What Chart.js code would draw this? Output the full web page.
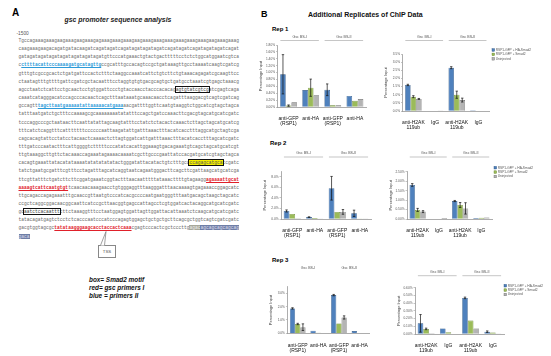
<!DOCTYPE html>
<html><head><meta charset="utf-8">
<script src="https://cdn.jsdelivr.net/npm/chart.js@4.4.1/dist/chart.umd.min.js"></script>
<style>
html,body{margin:0;padding:0;}
body{width:551px;height:356px;position:relative;background:#fff;overflow:hidden;font-family:"Liberation Sans",Arial,sans-serif;}
.abs{position:absolute;white-space:pre;line-height:1;}
.row{position:absolute;left:18.5px;white-space:pre;font-family:"Liberation Mono","DejaVu Sans Mono",monospace;font-size:4.6px;line-height:8px;color:#6a6a6a;}
.bl{color:#2c9ad8;text-decoration:underline;font-weight:bold;}
.bx{outline:0.8px solid #111;outline-offset:0.8px;text-decoration:underline;color:#444;}
.yl{background:#f5f000;outline:0.8px solid #111;outline-offset:0.6px;color:#555;}
.rd{color:#e0202a;text-decoration:underline;font-weight:bold;}
.gy{background:#a8a89a;color:#eee;}
.sl{background:#6f7fa6;color:#dde;}
</style></head>
<body>
<div class="abs" style="left:12px;top:8px;font-size:10px;font-weight:bold;">A</div>
<div class="abs" style="left:40px;width:156px;top:17px;font-size:6.9px;font-weight:bold;font-style:italic;text-align:center;color:#222;">gsc promoter sequence analysis</div>
<div class="abs" style="left:16.5px;top:31.5px;font-size:4.8px;color:#555;">-1500</div>
<div id="seq"></div>
<div class="abs" style="left:98px;top:245px;width:16px;height:11px;border:0.8px solid #888;background:#fff;font-size:4.3px;color:#555;text-align:center;line-height:11px;">TSS</div>
<svg style="position:absolute;left:0;top:0" width="551" height="356"><polyline points="100.5,245.4 106,231.5 104.5,245.4" fill="#fff" stroke="#777" stroke-width="0.7"/></svg>
<div class="abs" style="left:89px;top:276px;font-size:6.4px;font-weight:bold;font-style:italic;line-height:8px;color:#111;">box= Smad2 motif
red= gsc primers I
blue = primers II</div>

<div class="abs" style="left:261px;top:9.5px;font-size:9px;font-weight:bold;">B</div>
<div class="abs" style="left:308px;top:10.5px;font-size:7px;font-weight:bold;color:#111;">Additional Replicates of ChIP Data</div>
<div class="abs" style="left:272px;top:26px;font-size:6px;font-weight:bold;">Rep 1</div>
<div class="abs" style="left:270px;top:140px;font-size:6px;font-weight:bold;">Rep 2</div>
<div class="abs" style="left:272px;top:256.5px;font-size:6px;font-weight:bold;">Rep 3</div>

<script>
// ---------- data ----------
const gfpLabels = [["anti-GFP","(RSP1)"], "anti-HA", ["anti-GFP","(RSP1)"], "anti-HA"];
const h2aLabels = [["anti-H2AK","119ub"], "IgG", ["anti-H2AK","119ub"], "IgG"];
const siteLabels = ["Gsc BS-I", "Gsc BS-II"];
const seriesNames = ["RSP1-GFP + HA-Smad2", "RSP1-GFP + Smad2", "Uninjected"];

// Rep 1
const rep1GfpBlue  = [0.95, 0.49, 0.50, 0.32];
const rep1GfpGreen = [0.04, 0.56, 0.05, 0.18];
const rep1GfpGray  = [0.135, 0.34, 0.05, 0.23];
const rep1GfpErrBlue  = [0.57, 0, 0.17, 0];
const rep1GfpErrGreen = [0.02, 0.25, 0, 0];
const rep1GfpErrGray  = [0, 0, 0, 0];
const rep1GfpTicks = {max: 1.8, step: 0.2, dec: 2};

const rep1H2aBlue  = [1.60, 0.01, 2.66, 0.04];
const rep1H2aGreen = [0.88, 0.01, 1.00, 0.01];
const rep1H2aGray  = [0.74, 0.03, 0.67, 0.01];
const rep1H2aErrBlue  = [0.04, 0, 0.06, 0];
const rep1H2aErrGreen = [0.06, 0, 0.22, 0];
const rep1H2aErrGray  = [0.03, 0, 0.12, 0];
const rep1H2aTicks = {max: 3.5, step: 0.5, dec: 1};

// Rep 2
const rep2GfpBlue  = [1.53, 0.36, 5.85, 1.08];
const rep2GfpGreen = [0.95, 0.18, 1.35, 0.09];
const rep2GfpGray  = [0.14, 0.09, 1.35, 0.09];
const rep2GfpErrBlue  = [0.20, 0.05, 2.25, 0.60];
const rep2GfpErrGreen = [0, 0, 0, 0];
const rep2GfpErrGray  = [0, 0, 0.45, 0];
const rep2GfpTicks = {max: 9, step: 1, dec: 1};

const rep2H2aBlue  = [1.80, 0.00, 0.95, 0.05];
const rep2H2aGreen = [0.48, 0.00, 0.74, 0.06];
const rep2H2aGray  = [0.39, 0.05, 0.56, 0.08];
const rep2H2aErrBlue  = [0.07, 0, 0.03, 0];
const rep2H2aErrGreen = [0.08, 0, 0.13, 0];
const rep2H2aErrGray  = [0.05, 0, 0.30, 0];
const rep2H2aTicks = {max: 2.5, step: 0.5, dec: 2};

// Rep 3
const rep3GfpBlue  = [1.87, 0.19, 2.87, 0.17];
const rep3GfpGreen = [0.70, 0.04, 0.74, 0.03];
const rep3GfpGray  = [0.46, 0.03, 1.19, 0.03];
const rep3GfpErrBlue  = [0.05, 0, 0.05, 0];
const rep3GfpErrGreen = [0.05, 0, 0, 0];
const rep3GfpErrGray  = [0.25, 0, 0.12, 0];
const rep3GfpTicks = {max: 3.5, step: 0.5, dec: 1};

const rep3H2aBlue  = [0.138, 0.072, 0.468, 0.030];
const rep3H2aGreen = [0.066, 0.024, 0.174, 0.018];
const rep3H2aGray  = [0.010, 0.000, 0.072, 0.006];
const rep3H2aErrBlue  = [0.114, 0, 0.01, 0.01];
const rep3H2aErrGreen = [0.01, 0, 0, 0];
const rep3H2aErrGray  = [0, 0, 0, 0];
const rep3H2aTicks = {max: 0.6, step: 0.1, dec: 2};

// ---------- sequence text (panel A) ----------
const seqRows = [
"Tgccagaaagaaagaagaaagaagaaagagaaagaaagaaagaagaaagaaagaaagaaagaaagaaagaagaaagaaagaagg",
"caagaaagaagacagatgatacaagatcagatagatcagatagatagatagatcagatagatcagatagatagatcagatagat",
"gatagatagatagatagatagatagatagatgttcccatgaaactgtactgactttttcctctctggcatggaatcgtcagta",
"ccttttacattcccaaaagatgcatagttgccgcatttgccacagtccgctgataaagttgcctaaaatcaagtcgatcgat",
"gtttgtcgccgcactctgatgattccactctttctaaggccaaatcattctgtcttctgtaaacagagatcgcaagttccga",
"ctaatagtttgttttgattcgatcgctacaatttcctaggtgtgtgacgcagtgctgatgcctaaatcgtgagctaaacgtt",
"agcctaatctcattcctgcaactcctgtggattccctgtaccaacctacccacacagagtgtatcgtcgatcgagtcagat",
"caaatcatagggacatccagcccacaactcagctttaataaatgcaaacaacctcagatttaaggacgtcagtcgatcagat",
"gccagtttagcttaatgaaaaatattaaaaacatgaaaaacgattttggttcaatgtaaggtctggcatcgtagctagcatcg",
"tatttaatgatctgctttccaaaagcgcaaaaaaaatatatttccagctgatccaaacttcgacgtagcatgcatcgatcgta",
"tcccaggcccgctaataacttcaattatattagcaagtatttcctatctctacactcaaactcttagctagcatgcatcgat",
"tttcatctcaggtttcatttttttccccccaattaagatattgatttaaactttacatcacctttaggcatgctagtcgatc",
"cagcacagtattcctatcctacaactcaaaactcttagtggatcattgatttaaactttacatcacctttagcatcgatcga",
"tttgatcccaatactttcattggggtctttttcccatatcacattggaaagtgacagaaatgtcagctagcatgcatcgtag",
"ttgtaaaggcttgttctacaaaccagaaatagaaaacaaaatcgcttgcccgaattatccacgatgcatcgtagctagcat",
"cacagtgaaattatacatataaaatatatatatatactgggatattacatactgtctttgccccagagcatgcatcgatcga",
"tatctgaatgcgatttcgtttcctagatttagcatcaggtaatcagaatgggacttcagcttcgattaagcatgcatcgatc",
"ttcgttatttctgatcttcttcggatgaaatcggtactttaacaatttttataaacttttgtagaaggagaaaattgcatcg",
"aaaagtcattcaatgtgttcaacaacaaagaacctgtgggaggtttaagggatttaacaaaagtgagaaaccggagcatcga",
"ttgcagaccagagaaatttgcaaccgttaatgtcccatcacgccccaatgaatgggtttaatgacagctaagctagcatcga",
"ccgctcaggcggacaacggcaattcatccgcttaacggtgagccattagcctcgtggatcactacaggcatgcatcgatcga",
"gcaatctcacaattttttctaaaggtttcctaatggagtggattagttggattacattaaatctcaagcatgcatcgatcga",
"tatacagatgagtctcctctcacccaatcccatcccagagtggagctgctgctgcttcagcgctggtcagtcgatcgatcg",
"gacgtggtagcgctatataagggaagcacctaccactcaaacgagtcccactcgctcccttgagacagcagcagcagcagca",
"gaca"
];
const seqMarks = [
 [3,1,30,'bl'],[6,57,69,'bx'],[8,7,38,'bl'],[15,62,74,'yl'],
 [17,68,80,'rd'],[18,0,18,'rd'],[21,2,15,'bx'],
 [23,13,41,'rd'],[23,62,66,'gy'],[23,66,80,'sl'],[24,0,4,'sl']
];
(function(){
  const host = document.getElementById('seq');
  seqRows.forEach((raw,i)=>{
    const s = i < seqRows.length-1 ? (raw + "gcatcgatcgtagcatgcatcgat").slice(0,80) : raw;
    const marks = seqMarks.filter(m=>m[0]===i).sort((a,b)=>a[1]-b[1]);
    let html='', pos=0;
    marks.forEach(m=>{ html += s.slice(pos,m[1]) + '<span class="'+m[3]+'">' + s.slice(m[1],m[2]) + '</span>'; pos=m[2]; });
    html += s.slice(pos);
    const d=document.createElement('div'); d.className='row';
    d.style.top=(37 + 8.15*i)+'px'; d.innerHTML=html; host.appendChild(d);
  });
})();

// ---------- charts ----------
const fills = ['#4f81bd', '#9bbb59', '#b4b4b4'];
const edges = ['#27507f', '#5f7f2a', '#6a6a6a'];
const FONT = '"Liberation Sans", Arial, sans-serif';

function buildChart(spec){
  const padR = spec.legend ? 50 : 4;
  const cTop = Math.floor(spec.hdrY - 6);
  const cLeft = Math.floor(spec.L - 25);
  const cW = Math.ceil(spec.R + padR) - cLeft;
  const cH = Math.ceil(spec.B + 19) - cTop;
  const cv = document.createElement('canvas');
  cv.width = cW; cv.height = cH;
  cv.style.cssText = `position:absolute;left:${cLeft}px;top:${cTop}px;width:${cW}px;height:${cH}px`;
  document.body.appendChild(cv);
  const yW = spec.L - cLeft, xH = cTop + cH - spec.B;
  const padTop = spec.T - cTop, padRight = cLeft + cW - spec.R;

  const extras = {
    id: 'extras',
    afterDatasetsDraw(chart){
      const ctx = chart.ctx, y = chart.scales.y;
      ctx.save(); ctx.strokeStyle = '#111'; ctx.lineWidth = 0.7;
      spec.errors.forEach((errs,i)=>{
        const meta = chart.getDatasetMeta(i);
        meta.data.forEach((bar,j)=>{
          const e = errs[j]; if(!e) return;
          const v = spec.values[i][j];
          const yt = y.getPixelForValue(v+e), yb = y.getPixelForValue(Math.max(0,v-e));
          ctx.beginPath();
          ctx.moveTo(bar.x,yt); ctx.lineTo(bar.x,yb);
          ctx.moveTo(bar.x-1.2,yt); ctx.lineTo(bar.x+1.2,yt);
          ctx.moveTo(bar.x-1.2,yb); ctx.lineTo(bar.x+1.2,yb);
          ctx.stroke();
        });
      });
      ctx.restore();
    },
    afterDraw(chart){
      const ctx = chart.ctx, x = chart.scales.x;
      const cw = x.getPixelForValue(1) - x.getPixelForValue(0);
      ctx.save();
      ctx.font = '3.6px ' + FONT; ctx.fillStyle = '#555';
      ctx.textAlign = 'center'; ctx.textBaseline = 'middle';
      [[0,1],[2,3]].forEach((p,k)=>{
        const x0 = x.getPixelForValue(p[0]) - 0.37*cw, x1 = x.getPixelForValue(p[1]) + 0.37*cw;
        ctx.fillText(siteLabels[k], (x0+x1)/2, spec.hdrY - cTop);
        if(spec.lineY != null){
          ctx.strokeStyle = '#a0a0a0'; ctx.lineWidth = 0.6;
          ctx.beginPath(); ctx.moveTo(x0, spec.lineY - cTop); ctx.lineTo(x1, spec.lineY - cTop); ctx.stroke();
        }
      });
      if(spec.legend){
        ctx.font = '3.2px ' + FONT; ctx.textAlign = 'left';
        seriesNames.forEach((n,i)=>{
          const lx = spec.legend.x - cLeft, ly = spec.legend.y - cTop + i*4.4;
          ctx.fillStyle = fills[i]; ctx.fillRect(lx, ly-1.3, 2.6, 2.6);
          ctx.strokeStyle = edges[i]; ctx.lineWidth = 0.4; ctx.strokeRect(lx, ly-1.3, 2.6, 2.6);
          ctx.fillStyle = '#555'; ctx.fillText(n, lx+3.8, ly);
        });
      }
      ctx.restore();
    }
  };

  new Chart(cv, {
    type: 'bar',
    data: {
      labels: spec.labels,
      datasets: seriesNames.map((n,i)=>({
        label: n, data: spec.values[i],
        backgroundColor: fills[i], borderColor: edges[i], borderWidth: 0.6,
        categoryPercentage: 0.76, barPercentage: 1.0
      }))
    },
    options: {
      responsive: false, animation: false, devicePixelRatio: 1,
      layout: {padding: {top: padTop, right: padRight, left: 0, bottom: 0}},
      plugins: {legend: {display: false}, tooltip: {enabled: false}},
      scales: {
        x: {
          grid: {display: false},
          border: {display: true, color: '#8a8a8a', width: 0.7},
          ticks: {font: {size: 5, family: FONT, lineHeight: 1.05}, color: '#111', padding: 1.2, maxRotation: 0, autoSkip: false},
          afterFit: s => { s.height = xH; }
        },
        y: {
          min: 0, max: spec.ticks.max,
          ticks: {stepSize: spec.ticks.step, font: {size: 3.2, family: FONT}, color: '#555', padding: 1,
                  callback: v => v.toFixed(spec.ticks.dec) + '%'},
          grid: {display: true, drawOnChartArea: false, tickLength: 1.5, color: '#8a8a8a', lineWidth: 0.5},
          border: {display: true, color: '#8a8a8a', width: 0.7},
          title: {display: true, text: 'Percentage Input', font: {size: 4, family: FONT}, color: '#444', padding: {top: 6, bottom: 0}},
          afterFit: s => { s.width = yW; }
        }
      }
    },
    plugins: [extras]
  });
}

buildChart({L:277.5, R:366, T:45, B:107, hdrY:37, lineY:40.5, labels:gfpLabels,
  values:[rep1GfpBlue, rep1GfpGreen, rep1GfpGray], errors:[rep1GfpErrBlue, rep1GfpErrGreen, rep1GfpErrGray], ticks:rep1GfpTicks});
buildChart({L:402.5, R:489.3, T:54, B:111, hdrY:37, lineY:40.5, legend:{x:492, y:50}, labels:h2aLabels,
  values:[rep1H2aBlue, rep1H2aGreen, rep1H2aGray], errors:[rep1H2aErrBlue, rep1H2aErrGreen, rep1H2aErrGray], ticks:rep1H2aTicks});
buildChart({L:281, R:371, T:171.7, B:219, hdrY:153, lineY:157, labels:gfpLabels,
  values:[rep2GfpBlue, rep2GfpGreen, rep2GfpGray], errors:[rep2GfpErrBlue, rep2GfpErrGreen, rep2GfpErrGray], ticks:rep2GfpTicks});
buildChart({L:407, R:492, T:171.7, B:219, hdrY:153, lineY:157, legend:{x:494, y:167.7}, labels:h2aLabels,
  values:[rep2H2aBlue, rep2H2aGreen, rep2H2aGray], errors:[rep2H2aErrBlue, rep2H2aErrGreen, rep2H2aErrGray], ticks:rep2H2aTicks});
buildChart({L:287.4, R:369.8, T:286.7, B:333.3, hdrY:268.3, lineY:null, labels:gfpLabels,
  values:[rep3GfpBlue, rep3GfpGreen, rep3GfpGray], errors:[rep3GfpErrBlue, rep3GfpErrGreen, rep3GfpErrGray], ticks:rep3GfpTicks});
buildChart({L:415, R:504, T:287.7, B:334, hdrY:271.7, lineY:275.7, legend:{x:504, y:285.7}, labels:h2aLabels,
  values:[rep3H2aBlue, rep3H2aGreen, rep3H2aGray], errors:[rep3H2aErrBlue, rep3H2aErrGreen, rep3H2aErrGray], ticks:rep3H2aTicks});
</script>
</body></html>
